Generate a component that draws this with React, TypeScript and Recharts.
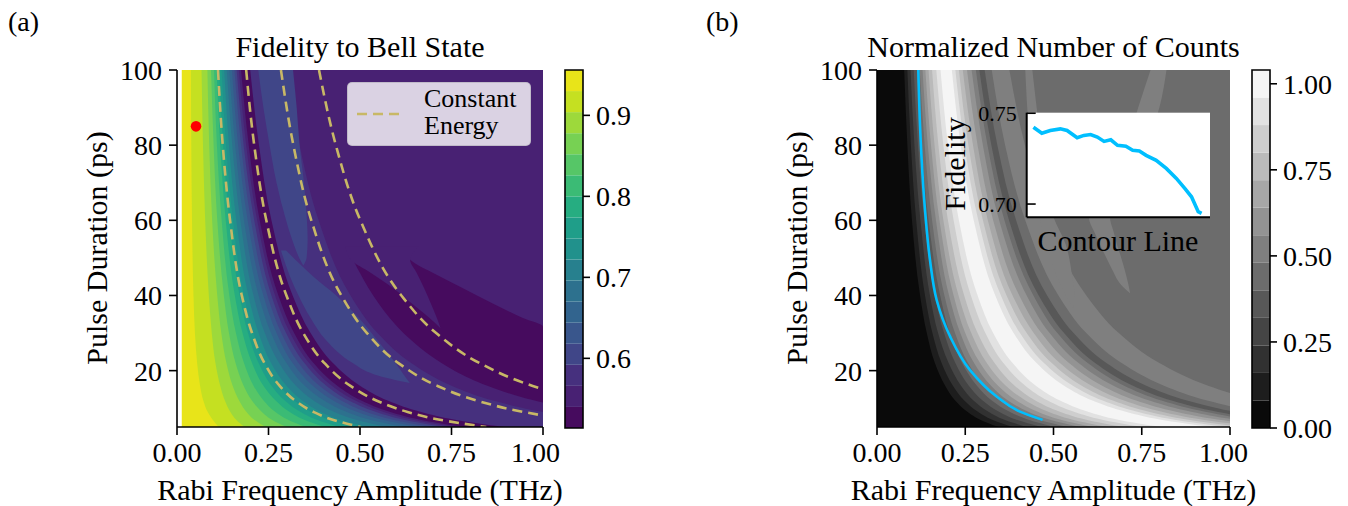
import React from "react";
import {
  ComposedChart,
  LineChart,
  Area,
  Line,
  Scatter,
  XAxis,
  YAxis,
  CartesianGrid,
  ReferenceArea,
  Legend,
} from "recharts";

const FONT = '"Liberation Serif", "DejaVu Serif", serif';

// pulse durations (ps) at which the contour edges were read
const durations = [100, 80, 60, 40, 30, 22, 16, 12, 9, 7, 5];
const ampTicks = [0, 0.25, 0.5, 0.75, 1];
const durTicks = [20, 40, 60, 80, 100];

// ---------- (a) fidelity to Bell state ----------
const fidelityLevels = [0.514, 0.54, 0.566, 0.592, 0.618, 0.644, 0.67, 0.696, 0.722, 0.748, 0.774, 0.8, 0.826, 0.852, 0.878, 0.904, 0.93, 0.956];
const fidelityColors = ["#460b5e", "#482173", "#46307e", "#404688", "#39568c", "#32648e", "#2d718e", "#27808e", "#21918c", "#1f9e89", "#26ad81", "#3bbb75", "#56c667", "#77d153", "#9dd93b", "#c5e021", "#e8e419"];
const fidelityTicks = [0.6, 0.7, 0.8, 0.9];

// amplitude (THz) of each fidelity contour edge, one value per duration
const fid930 = [0.038, 0.039, 0.041, 0.045, 0.049, 0.055, 0.063, 0.072, 0.084, 0.097, 0.114];
const fid904 = [0.067, 0.071, 0.077, 0.087, 0.095, 0.105, 0.118, 0.131, 0.146, 0.161, 0.185];
const fid878 = [0.083, 0.088, 0.096, 0.11, 0.121, 0.135, 0.152, 0.17, 0.19, 0.21, 0.242];
const fid852 = [0.093, 0.1, 0.11, 0.128, 0.142, 0.16, 0.182, 0.205, 0.232, 0.258, 0.3];
const fid826 = [0.101, 0.109, 0.122, 0.143, 0.161, 0.183, 0.209, 0.237, 0.269, 0.302, 0.352];
const fid800 = [0.108, 0.118, 0.133, 0.158, 0.179, 0.205, 0.236, 0.27, 0.308, 0.346, 0.405];
const fid774 = [0.115, 0.126, 0.143, 0.171, 0.194, 0.223, 0.258, 0.295, 0.338, 0.38, 0.446];
const fid748 = [0.122, 0.134, 0.153, 0.183, 0.209, 0.241, 0.28, 0.321, 0.368, 0.415, 0.488];
const fid722 = [0.129, 0.142, 0.162, 0.195, 0.223, 0.257, 0.299, 0.343, 0.393, 0.444, 0.522];
const fid696 = [0.136, 0.151, 0.173, 0.209, 0.24, 0.279, 0.325, 0.374, 0.43, 0.487, 0.574];
const fid670 = [0.143, 0.159, 0.183, 0.223, 0.257, 0.299, 0.349, 0.403, 0.464, 0.525, 0.621];
const fid644 = [0.15, 0.167, 0.193, 0.236, 0.272, 0.316, 0.371, 0.428, 0.493, 0.559, 0.661];
const fid618 = [0.157, 0.175, 0.202, 0.247, 0.285, 0.332, 0.389, 0.45, 0.518, 0.588, 0.695];
const fid592 = [0.163, 0.182, 0.211, 0.258, 0.298, 0.348, 0.408, 0.471, 0.544, 0.617, 0.73];
const fid566 = [0.169, 0.189, 0.219, 0.268, 0.309, 0.361, 0.423, 0.489, 0.565, 0.641, 0.758];
const fid540 = [0.175, 0.196, 0.226, 0.277, 0.32, 0.373, 0.438, 0.505, 0.583, 0.662, 0.783];
const fidStripe = [0.2, 0.224, 0.258, 0.316, 0.365, 0.426, 0.5, 0.577, 0.667, 0.756, 0.894];
const fidOuter = [0.3, 0.335, 0.387, 0.474, 0.548, 0.64, 0.75, 0.866, 1.0, 1.134, 1.342];

// constant-energy curves (dashed)
const energy1 = [0.112, 0.125, 0.145, 0.177, 0.205, 0.239, 0.28, 0.323, 0.373, 0.423, 0.501];
const energy2 = [0.189, 0.211, 0.244, 0.299, 0.345, 0.403, 0.473, 0.546, 0.63, 0.714, 0.845];
const energy3 = [0.284, 0.318, 0.367, 0.449, 0.519, 0.605, 0.71, 0.82, 0.947, 1.074, 1.27];
const energy4 = [0.388, 0.434, 0.501, 0.613, 0.708, 0.827, 0.97, 1.12, 1.293, 1.467, 1.735];

// closed contour pockets of (a)
const darkDur = [49.5, 48.6, 46, 42, 38, 34, 31.7, 28, 24, 20, 16, 13, 11.4];
const darkLow = [0.482, 0.486, 0.5, 0.523, 0.55, 0.581, 0.602, 0.641, 0.692, 0.758, 0.848, 0.94, 1.004];
const darkHigh = [0.637, 0.65, 0.7, 0.78, 0.86, 0.945, 1.0, 1.0, 1.0, 1.0, 1.0, 1.0, 1.004];
const wedgeDur = [53, 49.5, 46, 42, 38, 34, 31.3];
const wedgeLow = [0.46, 0.475, 0.53, 0.59, 0.64, 0.69, 0.72];
const wedgeHigh = [0.66, 0.637, 0.655, 0.675, 0.693, 0.71, 0.72];
const upperTongueDur = [100, 90, 80, 70, 60, 55, 50, 48];
const upperTongueLow = [0.222, 0.236, 0.253, 0.272, 0.298, 0.314, 0.334, 0.345];
const upperTongueHigh = [0.317, 0.327, 0.335, 0.347, 0.355, 0.357, 0.354, 0.345];
const lowerTongueDur = [52, 45, 40, 34, 28, 22, 19, 16.7];
const lowerTongueLow = [0.284, 0.309, 0.332, 0.365, 0.408, 0.48, 0.539, 0.636];
const lowerTongueHigh = [0.298, 0.373, 0.435, 0.497, 0.548, 0.597, 0.619, 0.636];

const dataStart = 0.013;
const bellPoint = [{ x: 0.052, y: 85 }];

// ---------- (b) normalized number of counts ----------
const countLevels = [0, 0.08, 0.16, 0.24, 0.32, 0.4, 0.48, 0.56, 0.64, 0.72, 0.8, 0.88, 0.96, 1.04];
const countColors = ["#0a0a0a", "#1d1d1d", "#313131", "#454545", "#585858", "#6c6c6c", "#7f7f7f", "#939393", "#a7a7a7", "#bababa", "#cecece", "#e2e2e2", "#f5f5f5"];
const countTicks = [0, 0.25, 0.5, 0.75, 1];

const cnt077 = [0.077, 0.086, 0.099, 0.122, 0.141, 0.164, 0.193, 0.222, 0.257, 0.291, 0.344];
const cnt086 = [0.086, 0.096, 0.111, 0.136, 0.157, 0.183, 0.215, 0.248, 0.287, 0.325, 0.385];
const cnt095 = [0.095, 0.106, 0.123, 0.15, 0.173, 0.203, 0.238, 0.274, 0.317, 0.359, 0.425];
const cnt104 = [0.104, 0.116, 0.134, 0.164, 0.19, 0.222, 0.26, 0.3, 0.347, 0.393, 0.465];
const cnt113 = [0.113, 0.126, 0.146, 0.179, 0.206, 0.241, 0.283, 0.326, 0.377, 0.427, 0.505];
const cnt121 = [0.121, 0.135, 0.156, 0.191, 0.221, 0.258, 0.303, 0.349, 0.403, 0.457, 0.541];
const cnt129 = [0.129, 0.144, 0.167, 0.204, 0.236, 0.275, 0.323, 0.372, 0.43, 0.488, 0.577];
const cnt137 = [0.137, 0.153, 0.177, 0.217, 0.25, 0.292, 0.343, 0.396, 0.457, 0.518, 0.613];
const cnt146 = [0.146, 0.163, 0.188, 0.231, 0.267, 0.311, 0.365, 0.422, 0.487, 0.552, 0.653];
const cnt156 = [0.156, 0.174, 0.201, 0.247, 0.285, 0.333, 0.39, 0.45, 0.52, 0.59, 0.698];
const cnt168 = [0.168, 0.188, 0.217, 0.266, 0.307, 0.358, 0.42, 0.485, 0.56, 0.635, 0.751];
const cnt180 = [0.18, 0.201, 0.232, 0.285, 0.329, 0.384, 0.45, 0.52, 0.6, 0.68, 0.805];
const cnt212 = [0.212, 0.237, 0.274, 0.335, 0.387, 0.452, 0.53, 0.612, 0.707, 0.801, 0.948];
const cnt222 = [0.222, 0.248, 0.287, 0.351, 0.405, 0.473, 0.555, 0.641, 0.74, 0.839, 0.993];
const cnt232 = [0.232, 0.259, 0.3, 0.367, 0.424, 0.495, 0.58, 0.67, 0.773, 0.877, 1.037];
const cnt243 = [0.243, 0.272, 0.314, 0.384, 0.444, 0.518, 0.608, 0.702, 0.81, 0.919, 1.087];
const cnt255 = [0.255, 0.285, 0.329, 0.403, 0.466, 0.544, 0.638, 0.736, 0.85, 0.964, 1.14];
const cnt268 = [0.268, 0.3, 0.346, 0.424, 0.489, 0.571, 0.67, 0.774, 0.893, 1.013, 1.199];
const cnt280 = [0.28, 0.313, 0.361, 0.443, 0.511, 0.597, 0.7, 0.808, 0.933, 1.058, 1.252];
const cnt290 = [0.29, 0.324, 0.374, 0.458, 0.53, 0.618, 0.725, 0.837, 0.967, 1.096, 1.297];
const cnt305 = [0.305, 0.341, 0.394, 0.482, 0.557, 0.65, 0.763, 0.881, 1.017, 1.153, 1.364];
const cnt325 = [0.325, 0.363, 0.42, 0.514, 0.593, 0.693, 0.813, 0.938, 1.083, 1.229, 1.453];
const cnt375 = [0.375, 0.419, 0.484, 0.593, 0.685, 0.8, 0.938, 1.083, 1.25, 1.418, 1.677];

// lighter pockets in the upper right of (b)
const pocket1Dur = [100, 84, 70, 60.8, 53.5, 45, 40, 36.7];
const pocket1Low = [0.42, 0.43, 0.445, 0.46, 0.48, 0.51, 0.535, 0.555];
const pocket1High = [0.44, 0.46, 0.48, 0.5, 0.535, 0.553, 0.56, 0.555];
const pocket2Dur = [100, 90, 84, 70, 60.8, 57, 53.5, 50, 46.4, 43, 40.6];
const pocket2Low = [0.775, 0.74, 0.72, 0.66, 0.6, 0.615, 0.632, 0.65, 0.669, 0.69, 0.717];
const pocket2High = [0.82, 0.8, 0.78, 0.72, 0.66, 0.67, 0.68, 0.692, 0.703, 0.712, 0.717];

// highlighted contour line (blue)
const contourDur = [100, 84.9, 62.8, 49.5, 38.8, 29.1, 20.2, 13.1, 9.1, 6.9];
const contourAmp = [0.117, 0.122, 0.136, 0.15, 0.169, 0.207, 0.263, 0.339, 0.405, 0.469];

// inset: fidelity along the contour line
const contourPos = [0, 0.05, 0.1, 0.16, 0.2, 0.26, 0.3, 0.34, 0.38, 0.42, 0.46, 0.5, 0.55, 0.59, 0.63, 0.67, 0.73, 0.79, 0.85, 0.9, 0.94, 0.98, 1.0];
const contourFid = [0.7423, 0.739, 0.7405, 0.7414, 0.7405, 0.7365, 0.7378, 0.7383, 0.7369, 0.7345, 0.7354, 0.7323, 0.7318, 0.7296, 0.7292, 0.7268, 0.7241, 0.7196, 0.7141, 0.7086, 0.704, 0.6958, 0.6949];
const insetTicks = [0.7, 0.75];

const fidelityEdges = [
  { key: "outer", xs: fidOuter, band: 2 },
  { key: "stripe", xs: fidStripe, band: 0 },
  { key: "f540", xs: fid540, band: 1 },
  { key: "f566", xs: fid566, band: 2 },
  { key: "f592", xs: fid592, band: 3 },
  { key: "f618", xs: fid618, band: 4 },
  { key: "f644", xs: fid644, band: 5 },
  { key: "f670", xs: fid670, band: 6 },
  { key: "f696", xs: fid696, band: 7 },
  { key: "f722", xs: fid722, band: 8 },
  { key: "f748", xs: fid748, band: 9 },
  { key: "f774", xs: fid774, band: 10 },
  { key: "f800", xs: fid800, band: 11 },
  { key: "f826", xs: fid826, band: 12 },
  { key: "f852", xs: fid852, band: 13 },
  { key: "f878", xs: fid878, band: 14 },
  { key: "f904", xs: fid904, band: 15 },
  { key: "f930", xs: fid930, band: 16 },
];

const countEdges = [
  { key: "c375", xs: cnt375, band: 6 },
  { key: "c325", xs: cnt325, band: 5 },
  { key: "c305", xs: cnt305, band: 4 },
  { key: "c290", xs: cnt290, band: 5 },
  { key: "c280", xs: cnt280, band: 6 },
  { key: "c268", xs: cnt268, band: 7 },
  { key: "c255", xs: cnt255, band: 8 },
  { key: "c243", xs: cnt243, band: 9 },
  { key: "c232", xs: cnt232, band: 10 },
  { key: "c222", xs: cnt222, band: 11 },
  { key: "c212", xs: cnt212, band: 12 },
  { key: "c180", xs: cnt180, band: 11 },
  { key: "c168", xs: cnt168, band: 10 },
  { key: "c156", xs: cnt156, band: 9 },
  { key: "c146", xs: cnt146, band: 8 },
  { key: "c137", xs: cnt137, band: 7 },
  { key: "c129", xs: cnt129, band: 6 },
  { key: "c121", xs: cnt121, band: 5 },
  { key: "c113", xs: cnt113, band: 4 },
  { key: "c104", xs: cnt104, band: 3 },
  { key: "c095", xs: cnt095, band: 2 },
  { key: "c086", xs: cnt086, band: 1 },
  { key: "c077", xs: cnt077, band: 0 },
];

const DASH = "#c8b866";
const BLUE = "#00bfff";
const AXIS = { stroke: "#000", strokeWidth: 1.6 };
const LABEL_SIZE = 30;

const fixedLabel = (value: string, x: number, y: number, size: number, rotate = false) => ({
  value,
  content: () => (
    <text
      x={x}
      y={y}
      textAnchor="middle"
      dominantBaseline="central"
      fontSize={size}
      fontFamily={FONT}
      fill="#000"
      transform={rotate ? `rotate(-90 ${x} ${y})` : undefined}
    >
      {value}
    </text>
  ),
});

const rangeRows = (ys: number[], lo: number[], hi: number[]) =>
  ys.map((y, i) => ({ y, r: [lo[i], hi[i]] }));

const tickStyle = { fontSize: 28, fill: "#000", fontFamily: FONT };

function frameAxes() {
  return [
    <XAxis
      key="xb"
      type="number"
      domain={[0, 1]}
      ticks={ampTicks}
      allowDataOverflow
      height={75}
      tickSize={8}
      tickMargin={7}
      tick={tickStyle}
      axisLine={AXIS}
      tickLine={AXIS}
      tickFormatter={(v: number) => v.toFixed(2)}
    />,
    <XAxis
      key="xt"
      xAxisId="top"
      orientation="top"
      type="number"
      domain={[0, 1]}
      height={0}
      tick={false}
      tickLine={false}
      axisLine={AXIS}
    />,
    <YAxis
      key="yl"
      type="number"
      dataKey="y"
      domain={[5, 100]}
      ticks={durTicks}
      reversed
      allowDataOverflow
      width={90}
      tickSize={8}
      tickMargin={7}
      tick={tickStyle}
      axisLine={AXIS}
      tickLine={AXIS}
      label={fixedLabel("Pulse Duration (ps)", 96, 248, LABEL_SIZE, true)}
    />,
    <YAxis
      key="yr"
      yAxisId="right"
      orientation="right"
      type="number"
      domain={[5, 100]}
      reversed
      width={0}
      tick={false}
      tickLine={false}
      axisLine={AXIS}
    />,
  ];
}

const rangeArea = (key: string, rows: { y: number; r: number[] }[], fill: string) => (
  <Area
    key={key}
    data={rows}
    dataKey="r"
    type="monotone"
    stroke="none"
    fill={fill}
    fillOpacity={1}
    isAnimationActive={false}
  />
);

function LegendBox() {
  return (
    <div
      style={{
        width: 184,
        height: 64,
        boxSizing: "border-box",
        background: "rgba(255,255,255,0.8)",
        border: "1.5px solid rgba(190,184,198,0.9)",
        borderRadius: 5,
        position: "relative",
        fontFamily: FONT,
        fontSize: 26,
        color: "#000",
      }}
    >
      <svg width={60} height={64} style={{ position: "absolute", left: 0, top: 0 }}>
        <line x1={9} x2={57} y1={31} y2={31} stroke={DASH} strokeWidth={2.6} strokeDasharray="10 6" />
      </svg>
      <div style={{ position: "absolute", left: 76, top: 4, lineHeight: "24px" }}>Constant</div>
      <div style={{ position: "absolute", left: 76, top: 31, lineHeight: "24px" }}>Energy</div>
    </div>
  );
}

function PanelA() {
  const rows = durations.map((y, i) => {
    const row: Record<string, number> = {
      y,
      start: dataStart,
      e1: energy1[i],
      e2: energy2[i],
      e3: energy3[i],
      e4: energy4[i],
    };
    fidelityEdges.forEach((e) => {
      row[e.key] = e.xs[i];
    });
    return row;
  });
  return (
    <ComposedChart
      layout="vertical"
      width={560}
      height={506}
      data={rows}
      margin={{ top: 70, right: 17, bottom: 4, left: 87 }}
    >
      <CartesianGrid fill={fidelityColors[1]} stroke="none" horizontal={false} vertical={false} />
      {frameAxes()}
      {rangeArea("dark", rangeRows(darkDur, darkLow, darkHigh), fidelityColors[0])}
      {rangeArea("wedge", rangeRows(wedgeDur, wedgeLow, wedgeHigh), fidelityColors[1])}
      {fidelityEdges.map((e) => (
        <Area
          key={e.key}
          dataKey={e.key}
          type="monotone"
          stroke="none"
          fill={fidelityColors[e.band]}
          fillOpacity={1}
          isAnimationActive={false}
        />
      ))}
      <Area dataKey="start" type="linear" stroke="none" fill="#fff" fillOpacity={1} isAnimationActive={false} />
      {rangeArea("upper", rangeRows(upperTongueDur, upperTongueLow, upperTongueHigh), fidelityColors[3])}
      {rangeArea("lower", rangeRows(lowerTongueDur, lowerTongueLow, lowerTongueHigh), fidelityColors[3])}
      {["e1", "e2", "e3", "e4"].map((k) => (
        <Line
          key={k}
          dataKey={k}
          type="monotone"
          stroke={DASH}
          strokeWidth={2.6}
          strokeDasharray="10 6"
          dot={false}
          isAnimationActive={false}
        />
      ))}
      <Scatter
        data={bellPoint}
        dataKey="x"
        fill="#ff0000"
        isAnimationActive={false}
        shape={(p: any) => <circle cx={p.cx} cy={p.cy} r={5.3} fill="#ff0000" />}
      />
      <Legend
        layout="horizontal"
        verticalAlign="middle"
        align="center"
        content={() => <LegendBox />}
        wrapperStyle={{ position: "absolute", left: 347, top: 82, width: 184, height: 64 }}
      />
    </ComposedChart>
  );
}

function PanelB() {
  const rows = durations.map((y, i) => {
    const row: Record<string, number> = { y };
    countEdges.forEach((e) => {
      row[e.key] = e.xs[i];
    });
    return row;
  });
  const lineData = contourDur.map((y, i) => ({ y, x: contourAmp[i] }));
  return (
    <ComposedChart
      layout="vertical"
      width={548}
      height={506}
      data={rows}
      margin={{ top: 70, right: 18, bottom: 4, left: 87 }}
    >
      <CartesianGrid fill={countColors[5]} stroke="none" horizontal={false} vertical={false} />
      {frameAxes()}
      {countEdges.map((e) => (
        <Area
          key={e.key}
          dataKey={e.key}
          type="monotone"
          stroke="none"
          fill={countColors[e.band]}
          fillOpacity={1}
          isAnimationActive={false}
        />
      ))}
      {rangeArea("p1", rangeRows(pocket1Dur, pocket1Low, pocket1High), countColors[6])}
      {rangeArea("p2", rangeRows(pocket2Dur, pocket2Low, pocket2High), countColors[6])}
      <Line
        data={lineData}
        dataKey="x"
        type="monotone"
        stroke={BLUE}
        strokeWidth={2.6}
        dot={false}
        isAnimationActive={false}
      />
    </ComposedChart>
  );
}

function ColorBar(props: {
  width: number;
  left: number;
  axisWidth: number;
  levels: number[];
  colors: string[];
  ticks: number[];
  digits: number;
}) {
  const { width, left, axisWidth, levels, colors, ticks, digits } = props;
  const lo = levels[0];
  const hi = levels[levels.length - 1];
  return (
    <ComposedChart
      width={width}
      height={506}
      data={[{ x: 0 }, { x: 1 }]}
      margin={{ top: 70, right: 0, bottom: 78, left }}
    >
      <XAxis type="number" dataKey="x" domain={[0, 1]} hide />
      <YAxis
        orientation="right"
        type="number"
        domain={[lo, hi]}
        ticks={ticks}
        allowDataOverflow
        width={axisWidth}
        tickSize={7}
        tickMargin={6}
        tick={tickStyle}
        axisLine={false}
        tickLine={AXIS}
        tickFormatter={(v: number) => v.toFixed(digits)}
      />
      {colors.map((c, i) => (
        <ReferenceArea key={i} x1={0} x2={1} y1={levels[i]} y2={levels[i + 1]} fill={c} fillOpacity={1} stroke="none" />
      ))}
      <ReferenceArea x1={0} x2={1} y1={lo} y2={hi} fill="none" stroke="#000" strokeWidth={1.6} />
    </ComposedChart>
  );
}

function Inset() {
  const data = contourPos.map((p, i) => ({ p, f: contourFid[i] }));
  return (
    <LineChart width={290} height={160} data={data} margin={{ top: 12.7, right: 10, bottom: 2.7, left: 36.7 }}>
      <CartesianGrid fill="#fff" stroke="none" horizontal={false} vertical={false} />
      <XAxis
        type="number"
        dataKey="p"
        domain={[-0.04, 1.05]}
        height={40}
        tick={false}
        tickLine={false}
        axisLine={{ stroke: "#000", strokeWidth: 2 }}
        label={fixedLabel("Contour Line", 188, 140, 30)}
      />
      <XAxis
        xAxisId="top"
        orientation="top"
        type="number"
        domain={[0, 1]}
        height={0}
        tick={false}
        tickLine={false}
        axisLine={{ stroke: "#000", strokeWidth: 2 }}
      />
      <YAxis
        type="number"
        domain={[0.6927, 0.7503]}
        ticks={insetTicks}
        allowDataOverflow
        width={60}
        tickSize={-9}
        tickMargin={19}
        tick={{ fontSize: 22, fill: "#000", fontFamily: FONT }}
        axisLine={{ stroke: "#000", strokeWidth: 2 }}
        tickLine={{ stroke: "#000", strokeWidth: 1.6 }}
        tickFormatter={(v: number) => v.toFixed(2)}
        label={fixedLabel("Fidelity", 24, 64, 30, true)}
      />
      <YAxis
        yAxisId="right"
        orientation="right"
        type="number"
        domain={[0, 1]}
        width={0}
        tick={false}
        tickLine={false}
        axisLine={{ stroke: "#000", strokeWidth: 2 }}
      />
      <Line dataKey="f" type="linear" stroke={BLUE} strokeWidth={3.6} dot={false} isAnimationActive={false} />
    </LineChart>
  );
}

const abs = (left: number, top: number): React.CSSProperties => ({ position: "absolute", left, top });

const centeredText = (cx: number, cy: number): React.CSSProperties => ({
  position: "absolute",
  left: cx - 260,
  width: 520,
  top: cy - 18,
  textAlign: "center",
  fontSize: LABEL_SIZE,
  lineHeight: "36px",
  whiteSpace: "nowrap",
});

export default function App() {
  return (
    <div
      style={{
        position: "absolute",
        left: 0,
        top: 0,
        width: 1348,
        height: 506,
        background: "#fff",
        fontFamily: FONT,
        overflow: "hidden",
      }}
    >
      <div style={abs(0, 0)}>
        <PanelA />
      </div>
      <div style={abs(540, 0)}>
        <ColorBar
          width={120}
          left={25}
          axisWidth={77}
          levels={fidelityLevels}
          colors={fidelityColors}
          ticks={fidelityTicks}
          digits={1}
        />
      </div>
      <div style={abs(700, 0)}>
        <PanelB />
      </div>
      <div style={abs(930, 100)}>
        <Inset />
      </div>
      <div style={abs(1230, 0)}>
        <ColorBar
          width={118}
          left={22}
          axisWidth={78}
          levels={countLevels}
          colors={countColors}
          ticks={countTicks}
          digits={2}
        />
      </div>
      <div style={centeredText(360, 47)}>Fidelity to Bell State</div>
      <div style={centeredText(1053.5, 47)}>Normalized Number of Counts</div>
      <div style={centeredText(360, 490)}>Rabi Frequency Amplitude (THz)</div>
      <div style={centeredText(1053.5, 490)}>Rabi Frequency Amplitude (THz)</div>
      <div style={{ ...abs(8, 6), fontSize: 28, lineHeight: "32px" }}>(a)</div>
      <div style={{ ...abs(706, 6), fontSize: 28, lineHeight: "32px" }}>(b)</div>
    </div>
  );
}
